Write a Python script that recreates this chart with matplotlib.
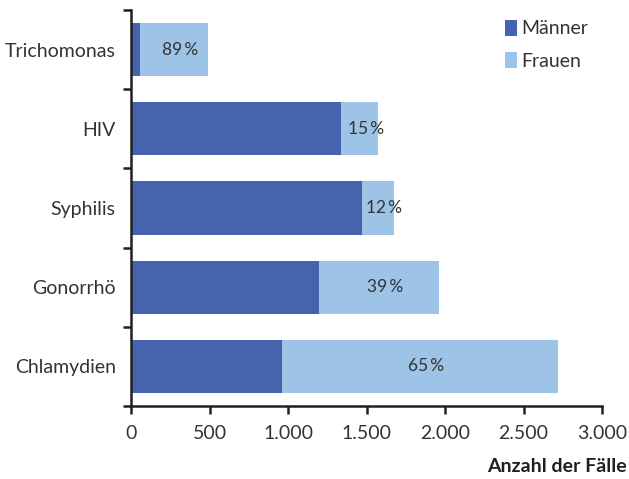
import numpy as np
import matplotlib.pyplot as plt

plt.rcParams['font.family'] = ['Lato', 'DejaVu Sans']

categories = ['Chlamydien', 'Gonorrhö', 'Syphilis', 'HIV', 'Trichomonas']
maenner = [962, 1197, 1471, 1338, 60]
frauen = [1758, 765, 204, 235, 432]
anteil_frauen = ['65\u2009%', '39\u2009%', '12\u2009%', '15\u2009%', '89\u2009%']

dark = '#4664ad'
light = '#9dc3e6'
ink = '#231f20'
txt = '#333333'

fig = plt.figure(figsize=(6.29, 4.79), dpi=100)
ax = fig.add_axes([131 / 629, 1 - 406 / 479, 471 / 629, 396 / 479])

y = np.arange(len(categories))
ax.barh(y, maenner, height=0.67, color=dark, label='Männer')
ax.barh(y, frauen, left=maenner, height=0.67, color=light, label='Frauen')

for i in range(len(categories)):
    xc = maenner[i] + frauen[i] / 2 + 40
    ax.text(xc, y[i], anteil_frauen[i], ha='center', va='center',
            fontsize=12.5, color=txt)

ax.set_xlim(0, 3000)
ax.set_ylim(-0.5, len(categories) - 0.5)
ax.set_xticks(np.arange(0, 3001, 500))
ax.set_xticklabels(['0', '500', '1.000', '1.500', '2.000', '2.500', '3.000'])
ax.set_yticks(y)
ax.set_yticklabels(categories)
ax.set_yticks(np.arange(-0.5, len(categories), 1), minor=True)
ax.tick_params(axis='y', which='major', length=0, pad=11, labelsize=14, labelcolor=txt)
ax.tick_params(axis='y', which='minor', length=6, width=1.8, color=ink)
ax.tick_params(axis='x', length=6, width=1.8, color=ink, pad=8, labelsize=14, labelcolor=txt)

for s in ['top', 'right']:
    ax.spines[s].set_visible(False)
for s in ['left', 'bottom']:
    ax.spines[s].set_linewidth(1.8)
    ax.spines[s].set_color(ink)

fig.text(627 / 629, 1 - 467 / 479, 'Anzahl der Fälle', ha='right', va='center',
         fontsize=14, fontweight='bold', color=ink)

ax.legend(loc='upper left', bbox_to_anchor=(0.757, 1.02), frameon=False,
          fontsize=14, handlelength=0.6, handleheight=0.9, handletextpad=0.25,
          labelspacing=0.75, labelcolor=txt)

fig.savefig('out.png', dpi=100)
